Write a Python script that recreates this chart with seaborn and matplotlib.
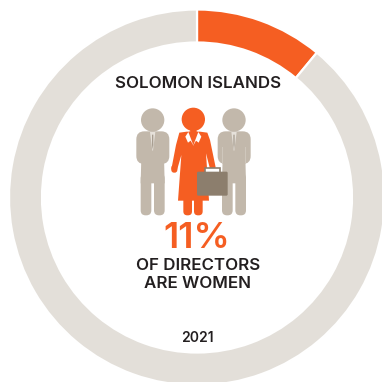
import matplotlib
matplotlib.use("Agg")
import matplotlib.pyplot as plt
from matplotlib.patches import Circle, FancyBboxPatch, Polygon, Rectangle
import seaborn as sns

sns.set_theme(style="white")
plt.rcParams["font.family"] = ["Inter", "DejaVu Sans"]

# Share of directors
categories = ["Women", "Men"]
shares = [11, 89]
ring_colors = ["#F55E22", "#E3DFD9"]

country = "SOLOMON ISLANDS"
headline = "11%"
caption = ["OF DIRECTORS", "ARE WOMEN"]
year = "2021"

SUIT = "#C2B8AB"
ORANGE = "#F55E22"
CASE = "#8C7E6D"
INK = "#231F20"

fig = plt.figure(figsize=(3.82, 3.82), dpi=100)
ax = fig.add_axes([0, 0, 1, 1])
ax.set_xlim(0, 382)
ax.set_ylim(382, 0)
ax.set_aspect("equal")
ax.axis("off")

# Doughnut, clockwise from twelve o'clock
pie_ax = fig.add_axes([0, 0, 1, 1], zorder=0)
pie_ax.pie(
    shares,
    colors=ring_colors,
    center=(197, 382 - 197.5),
    radius=188,
    startangle=90,
    counterclock=False,
    frame=True,
    wedgeprops=dict(width=33, edgecolor="white", linewidth=1.6),
)
pie_ax.set_xlim(0, 382)
pie_ax.set_ylim(0, 382)
pie_ax.axis("off")
ax.set_zorder(1)
ax.patch.set_alpha(0)


def px(zx, zy):
    """Icon layout units to figure pixels."""
    return 120 + zx / 3, 90 + zy / 3


def rounded(zx0, zy0, zx1, zy1, r, color, z=3):
    x0, y0 = px(zx0, zy0)
    x1, y1 = px(zx1, zy1)
    r = r / 3
    ax.add_patch(FancyBboxPatch((x0 + r, y0 + r), x1 - x0 - 2 * r, y1 - y0 - 2 * r,
                                boxstyle=f"round,pad={r},rounding_size={r}",
                                fc=color, ec="none", zorder=z))


def poly(points, color, z=3):
    ax.add_patch(Polygon([px(*p) for p in points], closed=True, fc=color, ec="none", zorder=z))


def man(c):
    ax.add_patch(Circle(px(c, 90), 35 / 3, fc=SUIT, ec="none", zorder=3))
    rounded(c - 49, 124, c + 50, 222, 24, SUIT)
    poly([(c - 34, 200), (c + 34, 200), (c + 36, 280), (c - 36, 280)], SUIT)
    rounded(c - 36, 250, c - 4, 376, 15, SUIT)
    rounded(c + 4, 250, c + 36, 376, 15, SUIT)
    # Arm separations
    poly([(c - 35, 170), (c - 34, 170), (c - 34, 222), (c - 35, 222)], "#CFC7BC", 4)
    poly([(c + 34, 170), (c + 35, 170), (c + 35, 222), (c + 34, 222)], "#CFC7BC", 4)
    # Shirt and tie
    poly([(c - 8, 126), (c + 8, 126), (c + 1, 182), (c - 1, 182)], "#E6E1DA", 4)
    poly([(c - 2, 134), (c + 2, 134), (c + 2, 165), (c, 178), (c - 2, 165)], "#A89E91", 5)


man(98)
man(342)

# Woman in a long coat
ax.add_patch(Circle(px(220, 88), 35 / 3, fc=ORANGE, ec="none", zorder=3))
poly([(208, 112), (232, 112), (226, 135), (214, 135)], ORANGE)
poly([(178, 128), (200, 125), (240, 125), (262, 128), (270, 150), (287, 232),
      (272, 244), (258, 190), (262, 250), (267, 332), (174, 332), (180, 250),
      (184, 195), (170, 244), (154, 238), (168, 165)], ORANGE)
rounded(154, 225, 172, 248, 8, ORANGE)
rounded(190, 320, 216, 376, 12, ORANGE)
rounded(222, 320, 248, 376, 12, ORANGE)
poly([(196, 140), (205, 126), (221, 168), (212, 152), (204, 158)], "white", 4)
poly([(244, 140), (235, 126), (219, 168), (228, 152), (236, 158)], "white", 4)
poly([(208, 124), (232, 124), (220, 152)], ORANGE, 5)

# Briefcase
hx0, hy0 = px(255, 235)
hx1, hy1 = px(300, 250)
ax.add_patch(Rectangle((hx0, hy0), hx1 - hx0, hy1 - hy0, fc="white", ec=CASE, lw=1.2, zorder=5))
rounded(231, 245, 323, 317, 4, CASE, 6)

# Labels
ax.text(198, 83, country, ha="center", va="center", fontsize=12.2, fontweight="semibold", color=INK, zorder=7)
ax.text(197, 238, headline, ha="center", va="center", fontsize=26, fontweight="semibold", color=ORANGE, zorder=7)
ax.text(198, 265, caption[0], ha="center", va="center", fontsize=12.2, fontweight="semibold", color=INK, zorder=7)
ax.text(198, 283, caption[1], ha="center", va="center", fontsize=12.2, fontweight="semibold", color=INK, zorder=7)
ax.text(197.5, 338, year, ha="center", va="center", fontsize=10, fontweight="semibold", color=INK, zorder=7)

fig.savefig("out.png", dpi=100, facecolor="white")
